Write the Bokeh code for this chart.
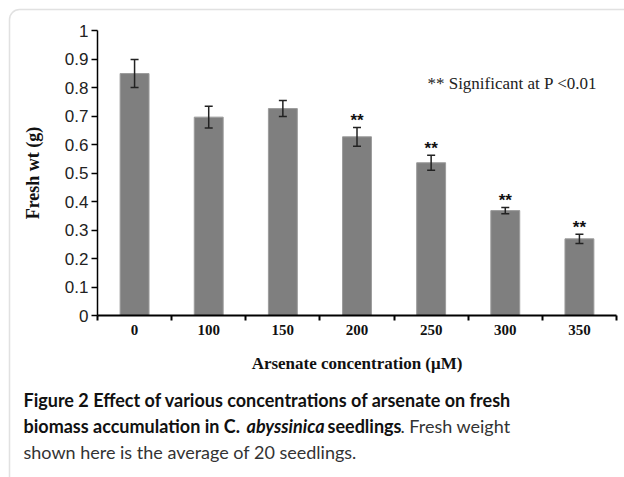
from bokeh.plotting import figure
from bokeh.models import (Range1d, FixedTicker, NumeralTickFormatter, Whisker, TeeHead,
                          ColumnDataSource, Label, BoxAnnotation)
from bokeh.core.properties import value
from bokeh.embed import file_html
from bokeh.resources import INLINE

# ---- data ----
categories = ["0", "100", "150", "200", "250", "300", "350"]
fresh_wt = [0.849, 0.696, 0.726, 0.627, 0.536, 0.368, 0.269]
std_err = [0.049, 0.038, 0.028, 0.033, 0.026, 0.011, 0.016]
significance = ["", "", "", "**", "**", "**", "**"]
y_ticks = [0.0, 0.1, 0.2, 0.3, 0.4, 0.5, 0.6, 0.7, 0.8, 0.9, 1.0]

n = len(categories)
xs = [i + 0.5 for i in range(n)]
upper = [v + e for v, e in zip(fresh_wt, std_err)]
lower = [v - e for v, e in zip(fresh_wt, std_err)]
src = ColumnDataSource(dict(x=xs, top=fresh_wt, upper=upper, lower=lower, sig=significance))

# ---- layout: the plot frame fills the whole canvas; axes sit at fixed locations ----
CANVAS_W, CANVAS_H = 624, 477
X0_PX, X1_PX = 97, 616      # pixel of x=0 and x=n
Y0_PX, Y1_PX = 315, 30      # pixel of y=0 and y=1
sx = (X1_PX - X0_PX) / n
sy = (Y0_PX - Y1_PX) / 1.0
x_start, x_end = -X0_PX / sx, n + (CANVAS_W - X1_PX) / sx
y_start, y_end = -(CANVAS_H - Y0_PX) / sy, 1 + Y1_PX / sy

def dx(px):
    return x_start + px / sx

def dy(py):
    return y_end - py / sy

p = figure(width=CANVAS_W, height=CANVAS_H, x_range=Range1d(x_start, x_end),
           y_range=Range1d(y_start, y_end), output_backend="svg", toolbar_location=None,
           min_border=0)
p.outline_line_color = None
p.xgrid.visible = False
p.ygrid.visible = False

p.vbar(x="x", top="top", width=0.39, bottom=0, source=src,
       fill_color="#7f7f7f", line_color="#9c9c9c", line_width=1)

p.add_layout(Whisker(base="x", upper="upper", lower="lower", source=src, level="overlay",
                     line_color="#222222", line_width=1.5,
                     upper_head=TeeHead(size=8, line_color="#222222", line_width=1.5),
                     lower_head=TeeHead(size=8, line_color="#222222", line_width=1.5)))

p.text(x="x", y="upper", text="sig", source=src, text_align="center", text_baseline="bottom",
       y_offset=3, text_font=value("Liberation Sans"), text_font_size="17px",
       text_font_style="bold", text_color="#111111")

# y axis
ya = p.yaxis[0]
ya.fixed_location = 0
ya.bounds = (0, 1)
ya.ticker = FixedTicker(ticks=y_ticks)
ya.formatter = NumeralTickFormatter(format="0.[0]")
ya.axis_line_color = "black"
ya.axis_line_width = 1.5
ya.major_tick_out = 6
ya.major_tick_in = 0
ya.major_tick_line_width = 1.5
ya.minor_tick_line_color = None
ya.major_label_standoff = 3
ya.major_label_text_font = "Liberation Sans"
ya.major_label_text_font_size = "17px"
ya.major_label_text_color = "#222222"
ya.axis_label = "Fresh wt (g)"
ya.axis_label_text_font = "Liberation Serif"
ya.axis_label_text_font_style = "bold"
ya.axis_label_text_font_size = "18px"
ya.axis_label_text_color = "#111111"
ya.axis_label_standoff = 19

# x axis
xa = p.xaxis[0]
xa.fixed_location = 0
xa.bounds = (0, n)
xa.ticker = FixedTicker(ticks=xs, minor_ticks=list(range(n + 1)))
xa.major_label_overrides = {x: c for x, c in zip(xs, categories)}
xa.axis_line_color = "black"
xa.axis_line_width = 2
xa.major_tick_line_color = None
xa.major_tick_out = 0
xa.major_tick_in = 0
xa.minor_tick_out = 5
xa.minor_tick_in = 0
xa.minor_tick_line_width = 2
xa.minor_tick_line_color = "black"
xa.major_label_standoff = 4
xa.major_label_text_font = "Liberation Serif"
xa.major_label_text_font_style = "bold"
xa.major_label_text_font_size = "15px"
xa.major_label_text_color = "#111111"
xa.axis_label = "Arsenate concentration (\u03bcM)"
xa.axis_label_text_font = "Liberation Serif"
xa.axis_label_text_font_style = "bold"
xa.axis_label_text_font_size = "17px"
xa.axis_label_text_color = "#111111"
xa.axis_label_standoff = 16

# note
p.add_layout(Label(x=4.45, y=0.814, text="** Significant at P <0.01", text_baseline="middle",
                   text_font="Liberation Serif", text_font_size="17px", text_color="#222222"))

# rounded panel frame (only its top and left edges fall inside the canvas)
p.add_layout(BoxAnnotation(left=dx(9), right=x_end + 2, top=dy(9), bottom=y_start - 2,
                           fill_alpha=0, line_color="#9a9a9a", line_width=1.5,
                           border_radius=10))

# caption
cap_font = "Lato"
def cap(px, py, text, style, color):
    p.add_layout(Label(x=dx(px), y=dy(py), text=text, text_baseline="alphabetic",
                       text_font=cap_font, text_font_size="18px", text_font_style=style,
                       text_color=color))

cap(23, 399, "Figure 2 Effect of various concentrations of arsenate on fresh", "bold", "#111111")
cap(23, 425, "biomass accumulation in C.", "bold", "#111111")
cap(246, 425, "abyssinica", "bold italic", "#111111")
cap(327, 425, "seedlings", "bold", "#111111")
cap(400, 425, ". Fresh weight", "normal", "#333333")
cap(23, 451, "shown here is the average of 20 seedlings.", "normal", "#333333")

open("out.html", "w").write(file_html(p, INLINE))
